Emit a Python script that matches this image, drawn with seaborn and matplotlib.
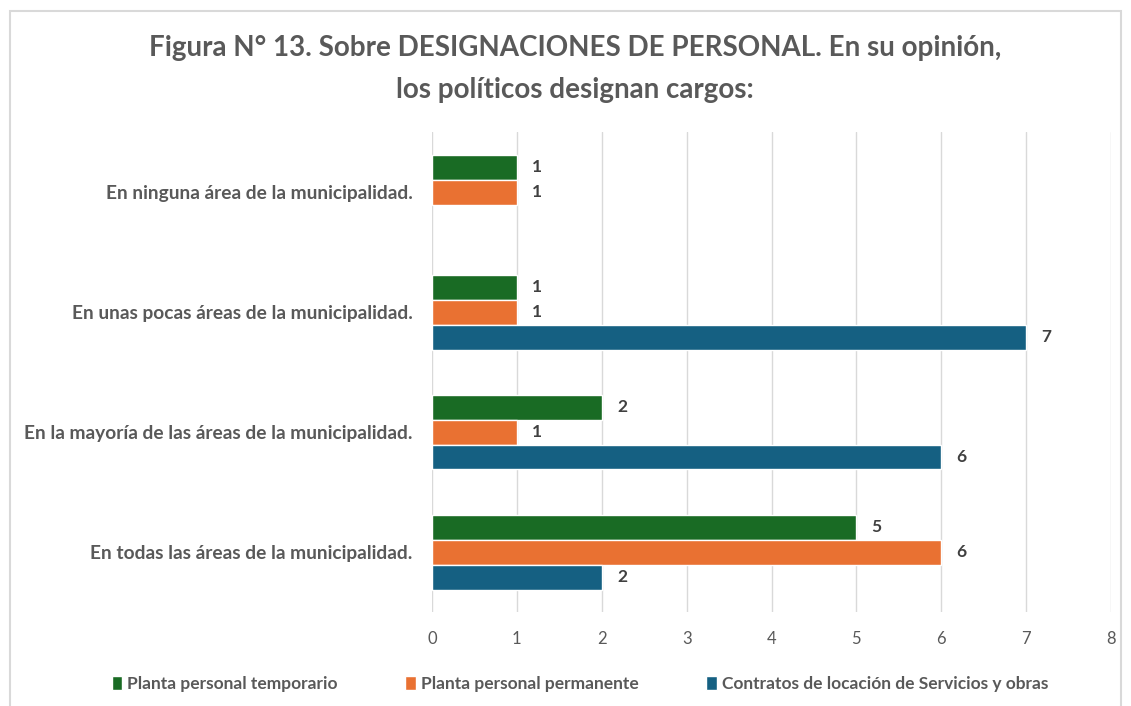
import pandas as pd
import seaborn as sns
import matplotlib.pyplot as plt
from matplotlib.patches import Rectangle, Patch

categorias = [
    "En ninguna área de la municipalidad.",
    "En unas pocas áreas de la municipalidad.",
    "En la mayoría de las áreas de la municipalidad.",
    "En todas las áreas de la municipalidad.",
]
series = [
    "Planta personal temporario",
    "Planta personal permanente",
    "Contratos de locación de Servicios y obras",
]
temporario = [1, 1, 2, 5]
permanente = [1, 1, 1, 6]
contratos = [None, 7, 6, 2]
colores = ["#196B24", "#E97132", "#156082"]

rows = []
for serie, vals in zip(series, [temporario, permanente, contratos]):
    for cat, v in zip(categorias, vals):
        rows.append({"categoria": cat, "serie": serie, "valor": v})
df = pd.DataFrame(rows)

sns.set_style("white")
plt.rcParams["font.family"] = ["Lato", "DejaVu Sans"]

W, H = 1131, 706
fig = plt.figure(figsize=(W / 100, H / 100), dpi=100)
ax = fig.add_axes([432 / W, 1 - 612 / H, (1111 - 432) / W, (612 - 132) / H])

sns.barplot(data=df, y="categoria", x="valor", hue="serie", order=categorias,
            hue_order=series, palette=colores, orient="h", width=0.625,
            saturation=1, ax=ax, legend=False)

ax.set_xlim(0, 8)
ax.set_xticks(range(9))
ax.grid(axis="x", color="#D9D9D9", linewidth=1)
ax.set_axisbelow(True)
for s in ax.spines.values():
    s.set_visible(False)
ax.set_xlabel("")
ax.set_ylabel("")
ax.tick_params(axis="x", length=0, labelsize=12, labelcolor="#595959", pad=14)
ax.tick_params(axis="y", length=0, pad=14)
for lab in ax.get_yticklabels():
    lab.set_fontweight("bold")
    lab.set_fontsize(13.8)
    lab.set_color("#595959")

for cont in ax.containers:
    labels = ["" if pd.isna(v) or v == 0 else f"{v:g}" for v in cont.datavalues]
    ax.bar_label(cont, labels=labels, padding=11, fontsize=12.5, fontweight="bold",
                 color="#404040")

fig.text(575 / W, 1 - 48 / H, "Figura N° 13. Sobre DESIGNACIONES DE PERSONAL. En su opinión,",
         ha="center", va="center", fontsize=20, fontweight="bold", color="#595959")
fig.text(575 / W, 1 - 90 / H, "los políticos designan cargos:",
         ha="center", va="center", fontsize=20, fontweight="bold", color="#595959")

handles = [Patch(facecolor=c, label=s) for c, s in zip(colores, series)]
fig.legend(handles=handles, loc="center", bbox_to_anchor=(580 / W, 1 - 684 / H), ncol=3,
           frameon=False, handlelength=0.6, handleheight=0.9,
           handletextpad=0.3, columnspacing=3.9, labelcolor="#595959",
           prop={"size": 12.5, "weight": "bold"})

fig.patches.append(Rectangle((10 / W, -0.01), (1121 - 10) / W, 1 - 11 / H + 0.01,
                             transform=fig.transFigure, fill=False,
                             edgecolor="#D9D9D9", linewidth=1.5))

fig.savefig("out.png", dpi=100, facecolor="white")
